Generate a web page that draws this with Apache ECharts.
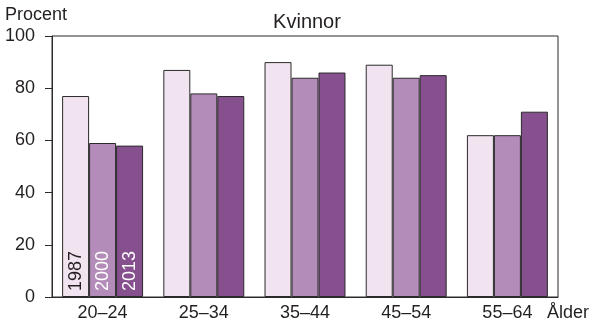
<!DOCTYPE html>
<html><head><meta charset="utf-8">
<script src="https://cdn.jsdelivr.net/npm/echarts@6/dist/echarts.min.js"></script>
<style>html,body{margin:0;padding:0;background:#fff}#c{width:595px;height:321px}</style>
</head><body><div id="c"></div>
<script>
var categories = ['20–24', '25–34', '35–44', '45–54', '55–64'];
var years = ['1987', '2000', '2013'];
var v1987 = [77, 87, 90, 89, 62];
var v2000 = [59, 78, 84, 84, 62];
var v2013 = [58, 77, 86, 85, 71];
var yTicks = [0, 20, 40, 60, 80, 100];
var colors = ['#f1e4f0', '#b48cb9', '#864f8e'];
var labelColors = ['#231f20', '#ffffff', '#ffffff'];
var FONT = 'Liberation Sans, Arial, sans-serif';
var TXT = '#231f20';

function mkSeries(name, vals, i) {
  return {
    name: name, type: 'bar', barGap: '0%', barCategoryGap: '20%',
    itemStyle: {color: colors[i], borderColor: '#2b2b2b', borderWidth: 1},
    data: vals.map(function (v, j) {
      if (j === 0) {
        return {value: v, label: {show: true, formatter: name, position: 'insideBottom',
          rotate: 90, align: 'left', verticalAlign: 'middle', distance: 6,
          color: labelColors[i], fontSize: 18, fontFamily: FONT}};
      }
      return v;
    }),
    silent: true, animation: false
  };
}

var chart = echarts.init(document.getElementById('c'));
chart.setOption({
  animation: false,
  title: {text: 'Kvinnor', left: 302, top: 7, textAlign: 'center',
    textStyle: {fontSize: 20, fontWeight: 'normal', color: TXT, fontFamily: FONT}},
  grid: {left: 52, right: 37, top: 36, bottom: 24, outerBoundsMode: 'none', containLabel: false,
    show: true, borderColor: '#2b2b2b', borderWidth: 1},
  xAxis: {type: 'category', data: categories,
    axisLine: {lineStyle: {color: '#2b2b2b', width: 1}}, axisTick: {show: false},
    axisLabel: {fontSize: 18, color: TXT, fontFamily: FONT, margin: 7}},
  yAxis: {type: 'value', min: 0, max: 100, interval: 20,
    axisLine: {show: true, lineStyle: {color: '#2b2b2b', width: 1}},
    axisTick: {show: true, length: 7, lineStyle: {color: '#2b2b2b'}},
    splitLine: {show: false},
    axisLabel: {fontSize: 18, color: TXT, fontFamily: FONT, margin: 17,
      formatter: function (v) { return yTicks.indexOf(v) >= 0 ? String(v) : ''; }}},
  graphic: [
    {type: 'text', left: 5, top: 6, style: {text: 'Procent', fontSize: 18, fill: TXT, fontFamily: FONT}},
    {type: 'text', left: 547, top: 304, style: {text: 'Ålder', fontSize: 18, fill: TXT, fontFamily: FONT}}
  ],
  series: [mkSeries(years[0], v1987, 0), mkSeries(years[1], v2000, 1), mkSeries(years[2], v2013, 2)]
});
</script></body></html>
